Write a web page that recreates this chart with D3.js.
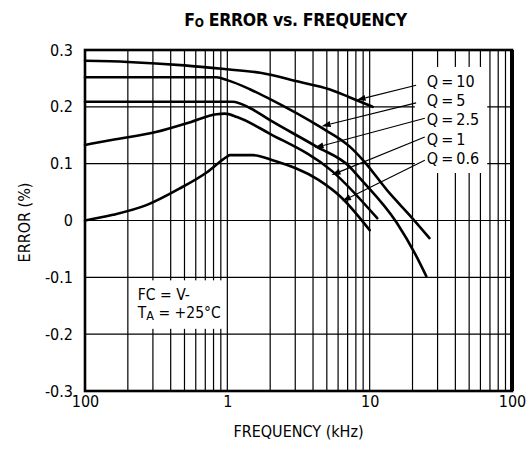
<!DOCTYPE html>
<html>
<head>
<meta charset="utf-8">
<script src="https://cdn.jsdelivr.net/npm/d3@7"></script>
<style>
	body { margin: 0; background: #fff; }
	svg { display: block; }
	text { font-family: "DejaVu Sans Condensed", "Liberation Sans Narrow", sans-serif; fill: #000; }
</style>
</head>
<body>
<svg id="viz"></svg>
<script>
// frequency in kHz, error in %
const qNames = ["Q = 10", "Q = 5", "Q = 2.5", "Q = 1", "Q = 0.6"];

const q10 = [[0.1, 0.281], [0.2, 0.279], [0.5, 0.273], [1, 0.266], [1.7, 0.26], [3.2, 0.244], [5.2, 0.231], [7.2, 0.217], [10.5, 0.2]];
const q5 = [[0.1, 0.252], [0.5, 0.252], [0.84, 0.252], [1, 0.247], [1.44, 0.231], [1.98, 0.214], [4.46, 0.165], [7.25, 0.13], [9, 0.106], [13.8, 0.048], [19, 0.01], [26.3, -0.031]];
const q25 = [[0.1, 0.209], [0.5, 0.209], [1.09, 0.209], [1.44, 0.198], [1.98, 0.177], [4.23, 0.13], [7.2, 0.095], [8.5, 0.075], [15.5, -0.004], [21, -0.06], [25, -0.098]];
const q1 = [[0.1, 0.133], [0.157, 0.142], [0.32, 0.156], [0.55, 0.173], [0.84, 0.187], [0.96, 0.188], [1.17, 0.182], [1.98, 0.153], [5.5, 0.086], [11.3, 0.004]];
const q06 = [[0.1, 0.0], [0.157, 0.01], [0.27, 0.027], [0.46, 0.056], [0.72, 0.085], [0.99, 0.112], [1.04, 0.115], [1.51, 0.115], [2.08, 0.106], [4.4, 0.071], [6.3, 0.041], [10, -0.017]];

const allSeries = [q10, q5, q25, q1, q06];

// where each label's arrow lands, and where its leader starts (kHz, %)
const arrowTips = [[8.1, 0.212], [4.6, 0.166], [4.1, 0.128], [5.4, 0.08], [6.4, 0.034]];
const arrowTails = [[21.2, 0.238], [21.2, 0.207], [24.4, 0.18], [24.4, 0.147], [24.4, 0.106]];
const labelBaselines = [0.235, 0.2015, 0.168, 0.133, 0.0994];
const labelFreq = 25.2;

const xTickValues = [0.1, 1, 10, 100];
const xTickLabels = ["100", "1", "10", "100"];
const yTickValues = [-0.3, -0.2, -0.1, 0, 0.1, 0.2, 0.3];

const width = 527;
const height = 453;
const margin = { top: 50, right: 15, bottom: 62, left: 85 };
const plotWidth = width - margin.left - margin.right;
const plotHeight = height - margin.top - margin.bottom;

const svg = d3.select("svg#viz")
	.attr("width", width)
	.attr("height", height);

const plot = svg.append("g")
	.attr("transform", translate(margin.left, margin.top));

const x = d3.scaleLog()
	.domain([0.1, 100])
	.range([0, plotWidth]);

const y = d3.scaleLinear()
	.domain([-0.3, 0.3])
	.range([plotHeight, 0]);

drawGrid();
drawNotes();
drawCurves();
drawLabels();
drawAxes();
drawFrame();
drawTitles();

function drawGrid() {
	let grid = plot.append("g").attr("id", "grid")
		.attr("stroke", "#000")
		.attr("stroke-width", 1.2);

	grid.selectAll("line.v")
		.data(x.ticks().filter(d => d > 0.1 && d < 100))
		.enter().append("line")
		.attr("class", "v")
		.attr("x1", d => x(d)).attr("x2", d => x(d))
		.attr("y1", 0).attr("y2", plotHeight);

	grid.selectAll("line.h")
		.data(yTickValues.slice(1, -1))
		.enter().append("line")
		.attr("class", "h")
		.attr("x1", 0).attr("x2", plotWidth)
		.attr("y1", d => y(d)).attr("y2", d => y(d));
}

function drawNotes() {
	// FC / TA note, sits on a white patch over the grid
	let note = plot.append("g").attr("id", "note");
	let box = note.append("rect").attr("fill", "#fff");

	let t = note.append("text")
		.attr("font-size", 15.5);
	t.append("tspan")
		.attr("x", x(0.2) + 10).attr("y", y(-0.1) + 23)
		.text("FC = V-");
	let t2 = t.append("tspan")
		.attr("x", x(0.2) + 10).attr("y", y(-0.1) + 41);
	t2.append("tspan").text("T");
	t2.append("tspan").attr("font-size", 12.5).attr("dy", 1.5).text("A");
	t2.append("tspan").attr("dy", -1.5).text(" = +25°C");

	let b = t.node().getBBox();
	box.attr("x", b.x - 5).attr("y", b.y - 6)
		.attr("width", b.width + 8).attr("height", b.height + 12);
}

function drawCurves() {
	let line = d3.line()
		.x(d => x(d[0]))
		.y(d => y(d[1]))
		.curve(d3.curveMonotoneX);

	plot.append("g").attr("id", "curves")
		.selectAll("path")
		.data(allSeries)
		.enter().append("path")
		.attr("fill", "none")
		.attr("stroke", "#000")
		.attr("stroke-width", 2.6)
		.attr("stroke-linecap", "round")
		.attr("d", line);
}

function drawLabels() {
	let labels = plot.append("g").attr("id", "labels");
	let box = labels.append("rect").attr("fill", "#fff");

	labels.selectAll("text")
		.data(qNames)
		.enter().append("text")
		.attr("font-size", 16)
		.attr("word-spacing", -1.5)
		.attr("x", x(labelFreq))
		.attr("y", (d, i) => y(labelBaselines[i]))
		.text(d => d);

	let b = labels.node().getBBox();
	box.attr("x", b.x - 12).attr("y", b.y - 5)
		.attr("width", b.width + 20).attr("height", b.height + 10);

	// leader lines with arrow heads
	arrowTips.forEach(function(tip, i) {
		let x1 = x(arrowTails[i][0]), y1 = y(arrowTails[i][1]);
		let x2 = x(tip[0]), y2 = y(tip[1]);
		let a = Math.atan2(y2 - y1, x2 - x1);
		let len = 9, half = 3;
		let bx = x2 - len * Math.cos(a), by = y2 - len * Math.sin(a);

		labels.append("line")
			.attr("x1", x1).attr("y1", y1)
			.attr("x2", bx).attr("y2", by)
			.attr("stroke", "#000")
			.attr("stroke-width", 1.1);

		labels.append("path")
			.attr("fill", "#000")
			.attr("d", "M" + x2 + "," + y2 +
				"L" + (bx - half * Math.sin(a)) + "," + (by + half * Math.cos(a)) +
				"L" + (bx + half * Math.sin(a)) + "," + (by - half * Math.cos(a)) + "Z");
	});
}

function drawAxes() {
	let xAxis = d3.axisBottom(x)
		.tickValues(xTickValues)
		.tickFormat((d, i) => xTickLabels[i])
		.tickSize(0)
		.tickPadding(5);

	let gx = plot.append("g")
		.attr("transform", translate(0, plotHeight))
		.call(xAxis);
	gx.select(".domain").remove();
	gx.selectAll("text")
		.attr("font-size", 16)
		.attr("font-family", null);

	let yAxis = d3.axisLeft(y)
		.tickValues(yTickValues)
		.tickFormat(d => String(d))
		.tickSize(0)
		.tickPadding(12);

	let gy = plot.append("g").call(yAxis);
	gy.select(".domain").remove();
	gy.selectAll("text")
		.attr("font-size", 16)
		.attr("font-family", null);
}

function drawFrame() {
	plot.append("rect")
		.attr("x", 0).attr("y", 0)
		.attr("width", plotWidth).attr("height", plotHeight)
		.attr("fill", "none")
		.attr("stroke", "#000")
		.attr("stroke-width", 2.6);

	plot.append("line")
		.attr("x1", plotWidth).attr("x2", plotWidth)
		.attr("y1", 0).attr("y2", plotHeight)
		.attr("stroke", "#000")
		.attr("stroke-width", 4);
}

function drawTitles() {
	let title = svg.append("text")
		.attr("x", margin.left + plotWidth / 2 - 3)
		.attr("y", 26)
		.attr("text-anchor", "middle")
		.attr("font-size", 17.5)
		.attr("font-weight", "bold")
		.attr("letter-spacing", -0.3);
	title.append("tspan").text("F");
	title.append("tspan").attr("font-size", 12).attr("dy", 1).text("O");
	title.append("tspan").attr("dy", -1).text(" ERROR vs. FREQUENCY");

	svg.append("text")
		.attr("x", margin.left + plotWidth / 2)
		.attr("y", 437)
		.attr("text-anchor", "middle")
		.attr("font-size", 16)
		.text("FREQUENCY (kHz)");

	svg.append("text")
		.attr("transform", translate(30, margin.top + plotHeight / 2 + 2) + " rotate(-90)")
		.attr("text-anchor", "middle")
		.attr("font-size", 16)
		.text("ERROR (%)");
}

//Helper
function translate(x, y) {
	return "translate(" + x + "," + y + ")";
}
</script>
</body>
</html>
